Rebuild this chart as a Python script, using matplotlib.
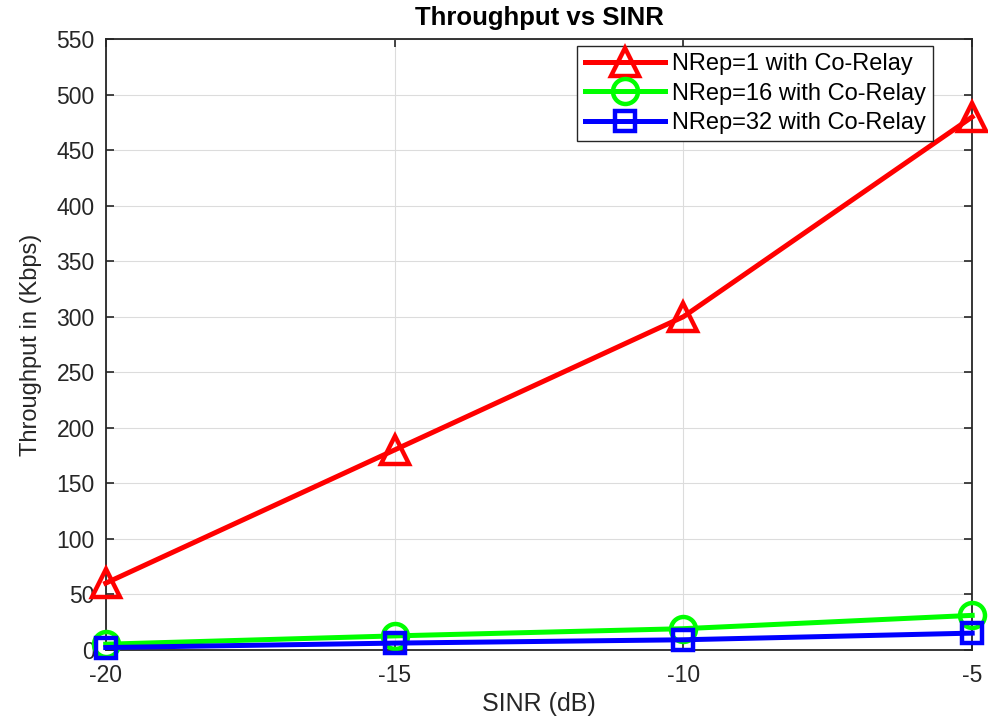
import matplotlib.pyplot as plt

# Values
sinr_db = [-20, -15, -10, -5]
nrep1 = [60, 180, 300, 480]
nrep16 = [5, 12.5, 19, 31]
nrep32 = [2, 6, 9, 15]
labels = ["NRep=1 with Co-Relay", "NRep=16 with Co-Relay", "NRep=32 with Co-Relay"]

plt.rcParams['font.family'] = ['Liberation Sans', 'DejaVu Sans']
plt.rcParams['axes.unicode_minus'] = False

fig = plt.figure(figsize=(9.88, 7.26), dpi=100)
ax = fig.add_axes([0.107, 0.105, 0.877, 0.841])

style = dict(lw=3.6, mfc="none", mew=3.2, clip_on=False, zorder=3)
ax.plot(sinr_db, nrep1, color="#ff0000", marker="^", ms=20, label=labels[0], **style)
ax.plot(sinr_db, nrep16, color="#00ff00", marker="o", ms=18, label=labels[1], **style)
ax.plot(sinr_db, nrep32, color="#0000ff", marker="s", ms=15, label=labels[2], **style)

ax.set_xlim(-20, -5)
ax.set_ylim(0, 550)
ax.set_xticks([-20, -15, -10, -5])
ax.set_yticks(range(0, 551, 50))
ax.grid(True, color="#dcdcdc", lw=0.8)
ax.set_axisbelow(True)
ax.tick_params(direction="in", length=6, width=1.2, labelsize=16.5, colors="#262626",
               top=True, right=True)
ax.tick_params(axis="x", pad=10)
ax.tick_params(axis="y", pad=8)
for s in ax.spines.values():
    s.set_color("#262626")
    s.set_linewidth(1.3)

ax.set_title("Throughput vs SINR", fontsize=18.5, fontweight="bold", pad=10)
ax.set_xlabel("SINR (dB)", fontsize=18, color="#262626", labelpad=4)
ax.set_ylabel("Throughput in (Kbps)", fontsize=17, color="#262626", labelpad=10)

leg = ax.legend(loc="upper right", bbox_to_anchor=(933 / 988, 1 - 46 / 726),
                bbox_transform=fig.transFigure, borderaxespad=0,
                fontsize=17, fancybox=False, framealpha=1, edgecolor="#262626",
                handlelength=3.4, handletextpad=0.3, labelspacing=0.32, borderpad=0.3)
leg.get_frame().set_linewidth(1)

fig.savefig("out.png", dpi=100)
